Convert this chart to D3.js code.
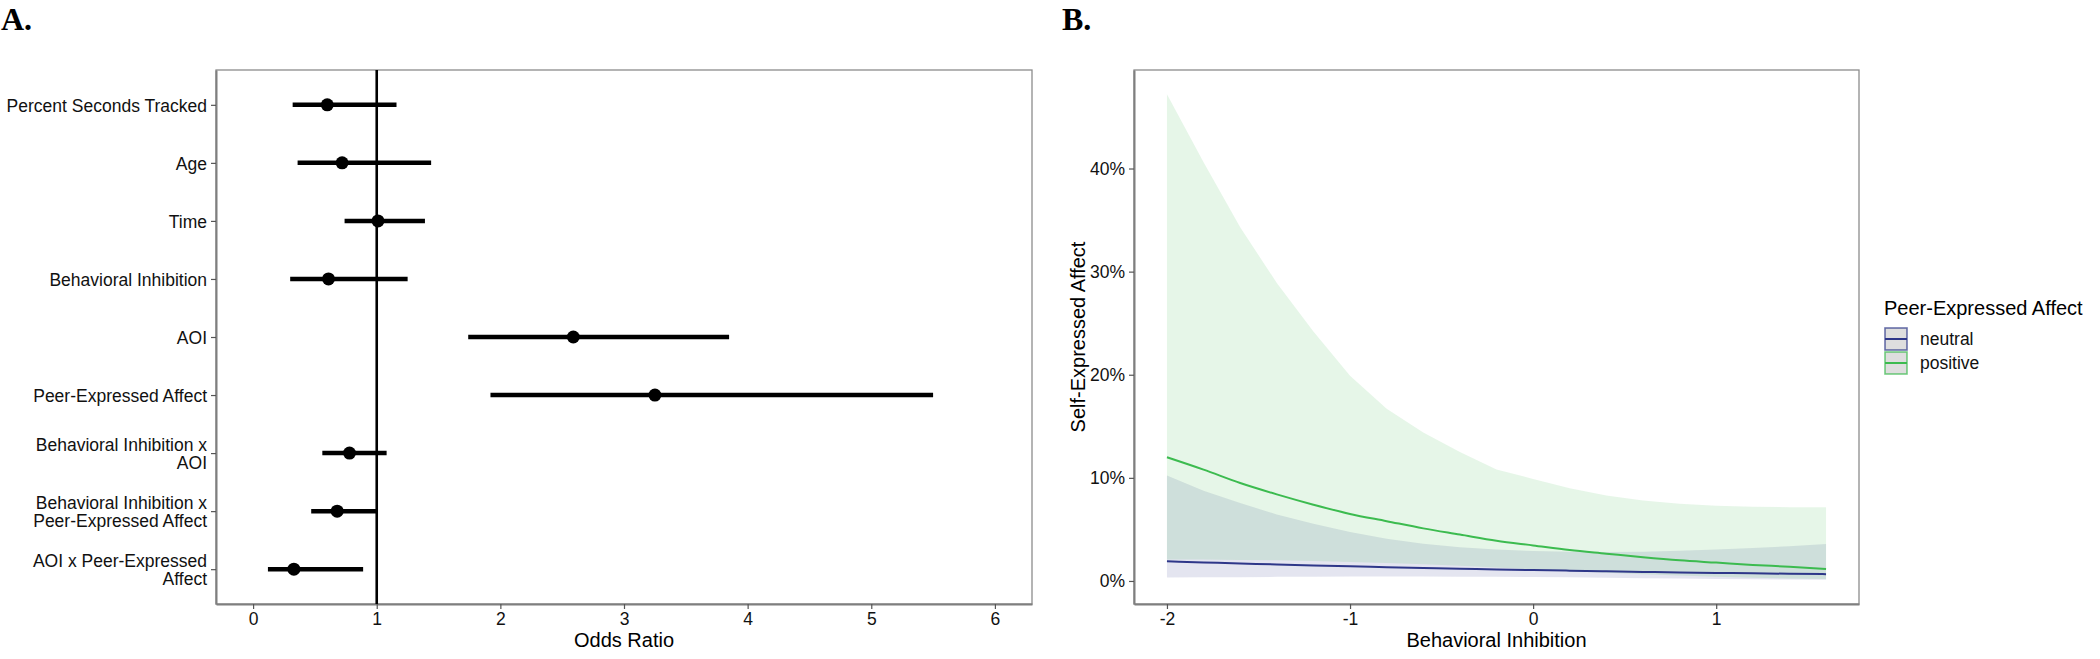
<!DOCTYPE html>
<html>
<head>
<meta charset="utf-8">
<script src="https://cdn.jsdelivr.net/npm/d3@7"></script>
<style>
  body { margin: 0; background: #fff; }
  svg { display: block; }
  text { font-family: "Liberation Sans", Arial, sans-serif; }
</style>
</head>
<body>
<svg id="chart" width="2100" height="659"></svg>
<script>
// ---------- Panel A data ----------
const termsA = [
  "Percent Seconds Tracked",
  "Age",
  "Time",
  "Behavioral Inhibition",
  "AOI",
  "Peer-Expressed Affect",
  "Behavioral Inhibition x\nAOI",
  "Behavioral Inhibition x\nPeer-Expressed Affect",
  "AOI x Peer-Expressed\nAffect"
];
const oddsRatio = [0.60, 0.72, 1.01, 0.61, 2.59, 3.25, 0.78, 0.68, 0.33];
const ciLow     = [0.32, 0.36, 0.74, 0.30, 1.74, 1.92, 0.56, 0.47, 0.12];
const ciHigh    = [1.16, 1.44, 1.39, 1.25, 3.85, 5.50, 1.08, 1.00, 0.89];
const oddsTicks = [0, 1, 2, 3, 4, 5, 6];

// ---------- Panel B data (percent) ----------
const biX = [-2.0, -1.8, -1.6, -1.4, -1.2, -1.0, -0.8, -0.6, -0.4, -0.2, 0.0, 0.2, 0.4, 0.6, 0.8, 1.0, 1.2, 1.4, 1.6];
const neutralFit   = [1.91, 1.80, 1.70, 1.60, 1.51, 1.42, 1.34, 1.26, 1.19, 1.12, 1.06, 1.00, 0.94, 0.88, 0.83, 0.78, 0.74, 0.70, 0.66];
const neutralLow   = [0.33, 0.35, 0.37, 0.40, 0.41, 0.43, 0.44, 0.44, 0.42, 0.41, 0.38, 0.35, 0.31, 0.27, 0.23, 0.20, 0.17, 0.14, 0.12];
const neutralHigh  = [10.24, 8.75, 7.55, 6.45, 5.55, 4.75, 4.10, 3.62, 3.28, 3.05, 2.90, 2.83, 2.81, 2.84, 2.92, 3.04, 3.19, 3.37, 3.59];
const positiveFit  = [12.0, 10.8, 9.5, 8.4, 7.4, 6.5, 5.8, 5.1, 4.5, 3.9, 3.45, 3.0, 2.65, 2.3, 2.0, 1.78, 1.56, 1.38, 1.15];
const positiveLow  = [2.08, 2.07, 2.04, 2.00, 1.94, 1.85, 1.75, 1.62, 1.47, 1.31, 1.13, 0.96, 0.79, 0.65, 0.52, 0.41, 0.32, 0.25, 0.19];
const positiveHigh = [47.2, 40.6, 34.3, 28.9, 24.2, 19.9, 16.7, 14.4, 12.5, 10.8, 9.9, 9.0, 8.3, 7.8, 7.5, 7.3, 7.2, 7.15, 7.15];
const biTicks = [-2, -1, 0, 1];
const pctTicks = [0, 10, 20, 30, 40];
const groupNames = ["neutral", "positive"];
const groupColors = ["#2E3789", "#3CBB4F"];

const svg = d3.select("#chart");

function styleAxis(g) {
  g.select(".domain").attr("stroke", "#7f7f7f").attr("stroke-width", 2);
  g.selectAll(".tick line").attr("stroke", "#555").attr("stroke-width", 1.2);
  g.selectAll(".tick text").attr("fill", "#111").style("font-size", "17.5px")
    .style("font-family", "'Liberation Sans', Arial, sans-serif");
}

// ================= Panel A =================
const A = {l: 216, r: 1032, t: 70, b: 604};
const xA = d3.scaleLinear().domain([-0.3, 6.3]).range([A.l, A.r]);
const yA = d3.scalePoint().domain(termsA).range([A.t, A.b]).padding(0.6);

svg.append("text").attr("x", 1).attr("y", 30)
  .style("font-family", "'Liberation Serif', 'Times New Roman', serif")
  .style("font-weight", "bold").style("font-size", "32px").text("A.");

svg.append("rect").attr("x", A.l).attr("y", A.t).attr("width", A.r - A.l).attr("height", A.b - A.t)
  .attr("fill", "none").attr("stroke", "#8c8c8c").attr("stroke-width", 1.3);

const gxA = svg.append("g").attr("transform", `translate(0,${A.b})`)
  .call(d3.axisBottom(xA).tickValues(oddsTicks).tickFormat(d3.format("d")).tickSize(5).tickPadding(4).tickSizeOuter(0));
styleAxis(gxA);

const gyA = svg.append("g").attr("transform", `translate(${A.l},0)`)
  .call(d3.axisLeft(yA).tickSize(5).tickPadding(4).tickSizeOuter(0));
styleAxis(gyA);
gyA.selectAll(".tick text").each(function(d) {
  const lines = d.split("\n");
  const t = d3.select(this).text(null).attr("dy", null);
  const lh = 18.5;
  lines.forEach((ln, i) => {
    t.append("tspan").attr("x", -9)
      .attr("y", (i - (lines.length - 1) / 2) * lh)
      .attr("dy", "0.36em").text(ln);
  });
});

// vertical reference line
svg.append("line").attr("x1", xA(1)).attr("x2", xA(1)).attr("y1", A.t).attr("y2", A.b)
  .attr("stroke", "#000").attr("stroke-width", 2.6);

// error bars
svg.append("g").selectAll("line").data(termsA).join("line")
  .attr("x1", (d, i) => xA(ciLow[i])).attr("x2", (d, i) => xA(ciHigh[i]))
  .attr("y1", d => yA(d)).attr("y2", d => yA(d))
  .attr("stroke", "#000").attr("stroke-width", 4.5);
svg.append("g").selectAll("circle").data(termsA).join("circle")
  .attr("cx", (d, i) => xA(oddsRatio[i])).attr("cy", d => yA(d)).attr("r", 6.5).attr("fill", "#000");

svg.append("text").attr("x", (A.l + A.r) / 2).attr("y", 647).attr("text-anchor", "middle")
  .style("font-size", "20px").attr("fill", "#000").text("Odds Ratio");

// ================= Panel B =================
const B = {l: 1134, r: 1859, t: 70, b: 604};
const allVals = neutralLow.concat(neutralHigh, positiveLow, positiveHigh);
const yMin = d3.min(allVals), yMax = d3.max(allVals);
const yPad = (yMax - yMin) * 0.05;
const xMinB = d3.min(biX), xMaxB = d3.max(biX);
const xPad = (xMaxB - xMinB) * 0.05;
const xB = d3.scaleLinear().domain([xMinB - xPad, xMaxB + xPad]).range([B.l, B.r]);
const yB = d3.scaleLinear().domain([yMin - yPad, yMax + yPad]).range([B.b, B.t]);

svg.append("text").attr("x", 1062).attr("y", 30)
  .style("font-family", "'Liberation Serif', 'Times New Roman', serif")
  .style("font-weight", "bold").style("font-size", "32px").text("B.");

svg.append("rect").attr("x", B.l).attr("y", B.t).attr("width", B.r - B.l).attr("height", B.b - B.t)
  .attr("fill", "none").attr("stroke", "#8c8c8c").attr("stroke-width", 1.3);

const series = [
  {name: "neutral", fit: neutralFit, lo: neutralLow, hi: neutralHigh, color: groupColors[0]},
  {name: "positive", fit: positiveFit, lo: positiveLow, hi: positiveHigh, color: groupColors[1]}
];

const area = d3.area().x(d => xB(d.x)).y0(d => yB(d.lo)).y1(d => yB(d.hi));
const line = d3.line().x(d => xB(d.x)).y(d => yB(d.y)).curve(d3.curveMonotoneX);

series.forEach(s => {
  const pts = biX.map((x, i) => ({x, lo: s.lo[i], hi: s.hi[i]}));
  svg.append("path").datum(pts).attr("d", area)
    .attr("fill", s.color).attr("fill-opacity", 0.13).attr("stroke", "none");
});
series.forEach(s => {
  const pts = biX.map((x, i) => ({x, y: s.fit[i]}));
  svg.append("path").datum(pts).attr("d", line)
    .attr("fill", "none").attr("stroke", s.color).attr("stroke-width", 2);
});

const gxB = svg.append("g").attr("transform", `translate(0,${B.b})`)
  .call(d3.axisBottom(xB).tickValues(biTicks).tickFormat(d3.format("d")).tickSize(5).tickPadding(4).tickSizeOuter(0));
styleAxis(gxB);
gxB.selectAll(".tick text").text(d => String(d));
const gyB = svg.append("g").attr("transform", `translate(${B.l},0)`)
  .call(d3.axisLeft(yB).tickValues(pctTicks).tickFormat(d => d + "%").tickSize(5).tickPadding(4).tickSizeOuter(0));
styleAxis(gyB);

svg.append("text").attr("x", (B.l + B.r) / 2).attr("y", 647).attr("text-anchor", "middle")
  .style("font-size", "20px").attr("fill", "#000").text("Behavioral Inhibition");
svg.append("text").attr("transform", `translate(1085,${(B.t + B.b) / 2}) rotate(-90)`)
  .attr("text-anchor", "middle").style("font-size", "20px").attr("fill", "#000").text("Self-Expressed Affect");

// legend
const lg = svg.append("g").attr("transform", "translate(1884,0)");
lg.append("text").attr("x", 0).attr("y", 315).style("font-size", "20px").attr("fill", "#000").text("Peer-Expressed Affect");
groupNames.forEach((n, i) => {
  const y0 = 328 + i * 24;
  lg.append("rect").attr("x", 1).attr("y", y0).attr("width", 22).attr("height", 22)
    .attr("fill", "#dedede").attr("stroke", groupColors[i]).attr("stroke-opacity", 0.7).attr("stroke-width", 1.6);
  lg.append("line").attr("x1", 1).attr("x2", 23).attr("y1", y0 + 11).attr("y2", y0 + 11)
    .attr("stroke", groupColors[i]).attr("stroke-width", 2);
  lg.append("text").attr("x", 36).attr("y", y0 + 17).style("font-size", "17.5px").attr("fill", "#111").text(n);
});
</script>
</body>
</html>
